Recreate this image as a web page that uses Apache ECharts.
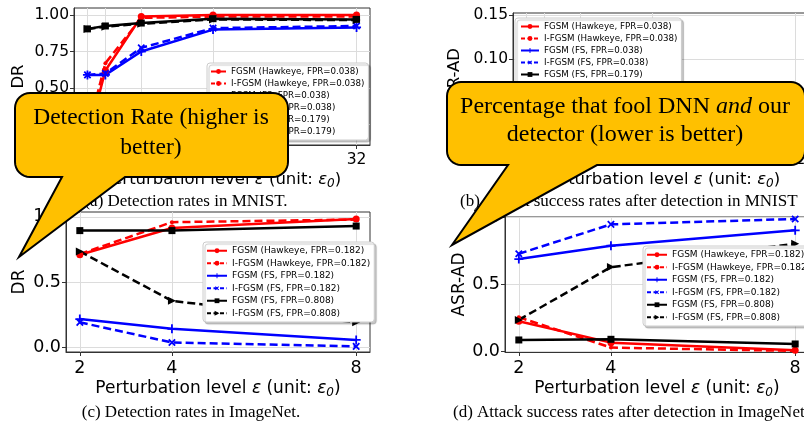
<!DOCTYPE html>
<html><head><meta charset="utf-8">
<script src="https://cdn.jsdelivr.net/npm/echarts@6/dist/echarts.min.js"></script>
<style>html,body{margin:0;padding:0;background:#fff}#c{width:804px;height:424px}</style>
</head><body><div id="c"></div>
<script>
// ---------- data ----------
const mnistEps = [2, 4, 8, 16, 32];
const imagenetEps = [2, 4, 8];

const mnistNamesA = ['FGSM (Hawkeye, FPR=0.038)', 'I-FGSM (Hawkeye, FPR=0.038)', 'FGSM (FS, FPR=0.038)', 'I-FGSM (FS, FPR=0.038)', 'FGSM (FS, FPR=0.179)', 'I-FGSM (FS, FPR=0.179)'];
const imagenetNames = ['FGSM (Hawkeye, FPR=0.182)', 'I-FGSM (Hawkeye, FPR=0.182)', 'FGSM (FS, FPR=0.182)', 'I-FGSM (FS, FPR=0.182)', 'FGSM (FS, FPR=0.808)', 'I-FGSM (FS, FPR=0.808)'];

// (a) detection rates, MNIST
const aHawkFGSM  = [0.15, 0.62, 0.99, 1.00, 1.00];
const aHawkIFGSM = [0.20, 0.67, 0.98, 0.99, 0.99];
const aFSFGSM    = [0.59, 0.59, 0.75, 0.90, 0.915];
const aFSIFGSM   = [0.59, 0.60, 0.775, 0.91, 0.925];
const aFS2FGSM   = [0.905, 0.925, 0.945, 0.975, 0.97];
const aFS2IFGSM  = [0.905, 0.92, 0.94, 0.97, 0.965];
// (b) ASR-AD, MNIST (covered by the callout; estimated)
const bHawkFGSM  = [0.050, 0.030, 0.012, 0.011, 0.011];
const bHawkIFGSM = [0.055, 0.035, 0.015, 0.012, 0.012];
const bFSFGSM    = [0.060, 0.055, 0.040, 0.030, 0.030];
const bFSIFGSM   = [0.062, 0.058, 0.042, 0.032, 0.030];
const bFS2FGSM   = [0.020, 0.020, 0.015, 0.013, 0.013];
const bFS2IFGSM  = [0.020, 0.021, 0.016, 0.014, 0.013];
// (c) detection rates, ImageNet
const cHawkFGSM  = [0.71, 0.915, 0.985];
const cHawkIFGSM = [0.715, 0.96, 0.98];
const cFSFGSM    = [0.215, 0.14, 0.055];
const cFSIFGSM   = [0.19, 0.035, 0.005];
const cFS2FGSM   = [0.895, 0.895, 0.93];
const cFS2IFGSM  = [0.735, 0.355, 0.19];
// (d) ASR-AD, ImageNet
const dHawkFGSM  = [0.225, 0.065, 0.008];
const dHawkIFGSM = [0.255, 0.028, 0.003];
const dFSFGSM    = [0.69, 0.79, 0.905];
const dFSIFGSM   = [0.73, 0.95, 0.99];
const dFS2FGSM   = [0.085, 0.09, 0.055];
const dFS2IFGSM  = [0.235, 0.63, 0.805];

// tick labels
const aXTicks = [2, 4, 8, 16, 32];
const aYTicks = [0.25, 0.50, 0.75, 1.00];
const bYTicks = [0.00, 0.05, 0.10, 0.15];
const cXTicks = [2, 4, 8];
const cYTicks = [0.0, 0.5, 1.0];
const dYTicks = [0.0, 0.5, 1.0];

// ---------- styles ----------
const plusPath = 'path://M4,0h2v4h4v2h-4v4h-2v-4h-4v-2h4z';
const styles = [
  {color: '#ff0000', dash: 'solid', symbol: 'circle', size: 7, rotate: 0},
  {color: '#ff0000', dash: [8, 4], symbol: 'circle', size: 4, rotate: 0},
  {color: '#0000ff', dash: 'solid', symbol: plusPath, size: 9, rotate: 0},
  {color: '#0000ff', dash: [8, 4], symbol: plusPath, size: 9, rotate: 45},
  {color: '#000000', dash: 'solid', symbol: 'rect', size: 7, rotate: 0},
  {color: '#000000', dash: [8, 4], symbol: 'triangle', size: 8, rotate: -90}
];

function makeSeries(names, xs, ys, gi) {
  return names.map((n, i) => ({
    name: n, type: 'line', xAxisIndex: gi, yAxisIndex: gi,
    data: xs.map((x, k) => [x, ys[i][k]]),
    symbol: styles[i].symbol, symbolSize: styles[i].size, symbolRotate: styles[i].rotate,
    showSymbol: true, showAllSymbol: true,
    lineStyle: {color: styles[i].color, width: 2.5, type: styles[i].dash},
    itemStyle: {color: styles[i].color, borderWidth: 0},
    emphasis: {disabled: true}, silent: true, animation: false
  }));
}

const sansFont = 'DejaVu Sans';
const serifFont = 'Liberation Serif';
const epsName = 'Perturbation level {e|ε} (unit: {e|ε}{s|0})';
function nameRich(fs) {
  return {
    e: {fontFamily: sansFont, fontStyle: 'italic', fontSize: fs, color: '#000'},
    s: {fontFamily: sansFont, fontStyle: 'italic', fontSize: Math.round(fs * 0.7), color: '#000', padding: [8, 0, 0, 0]}
  };
}

function xAxis(gi, min, max, ticks, fs, nfs, gap) {
  return {
    type: 'value', gridIndex: gi, min: min, max: max,
    name: epsName, nameLocation: 'middle', nameGap: gap,
    nameTextStyle: {fontFamily: sansFont, fontSize: nfs, color: '#000', rich: nameRich(nfs)},
    axisLine: {show: true, onZero: false, lineStyle: {color: '#333', width: 1}},
    axisTick: {show: true, length: 4, customValues: ticks, lineStyle: {color: '#333'}},
    axisLabel: {customValues: ticks, margin: 7, fontFamily: sansFont, fontSize: fs, color: '#000'},
    splitLine: {show: true, lineStyle: {color: '#dcdcdc', width: 1}}
  };
}
function yAxis(gi, min, max, ticks, name, gap, dec, fs, nfs) {
  return {
    type: 'value', gridIndex: gi, min: min, max: max,
    name: name, nameLocation: 'middle', nameGap: gap, nameRotate: 90,
    nameTextStyle: {fontFamily: sansFont, fontSize: nfs, color: '#000'},
    axisLine: {show: true, onZero: false, lineStyle: {color: '#333', width: 1}},
    axisTick: {show: true, length: 4, customValues: ticks, lineStyle: {color: '#333'}},
    axisLabel: {customValues: ticks, margin: 5, fontFamily: sansFont, fontSize: fs, color: '#000',
      formatter: v => v.toFixed(dec)},
    splitLine: {show: true, lineStyle: {color: '#dcdcdc', width: 1}}
  };
}
function legend(names, left, top, iw, lh, pad, fs) {
  return {
    data: names.map((n, i) => styles[i].dash === 'solid' ? {name: n} : {name: n, lineStyle: {type: [4, 2.5]}}),
    orient: 'vertical', left: left, top: top,
    itemWidth: iw, itemHeight: 6, itemGap: 1,
    padding: pad,
    backgroundColor: '#ffffff', borderColor: '#cccccc', borderWidth: 1, borderRadius: 3,
    shadowColor: 'rgba(0,0,0,0.22)', shadowOffsetX: 2, shadowOffsetY: 2, shadowBlur: 1,
    textStyle: {fontFamily: sansFont, fontSize: fs, color: '#000', lineHeight: lh},
    selectedMode: false, inactiveColor: '#000'
  };
}

function calloutPts(x0, y0, x1, y1, r, tail) {
  const pts = [];
  const arc = (cx, cy, a0, a1) => {
    for (let k = 0; k <= 8; k++) { const a = a0 + (a1 - a0) * k / 8; pts.push([cx + r * Math.cos(a), cy + r * Math.sin(a)]); }
  };
  arc(x0 + r, y0 + r, Math.PI, 1.5 * Math.PI);
  arc(x1 - r, y0 + r, 1.5 * Math.PI, 2 * Math.PI);
  arc(x1 - r, y1 - r, 0, 0.5 * Math.PI);
  pts.push([tail[1], y1], [tail[2], tail[3]], [tail[0], y1]);
  arc(x0 + r, y1 - r, 0.5 * Math.PI, Math.PI);
  return pts;
}

const chart = echarts.init(document.getElementById('c'), null, {renderer: 'canvas', width: 804, height: 424});
const gridBase = {show: true, borderColor: '#333', borderWidth: 1, backgroundColor: 'transparent', containLabel: false, outerBoundsMode: 'none'};
const capFont = '17px "Liberation Serif"';

chart.setOption({
  backgroundColor: '#ffffff',
  animation: false,
  grid: [
    Object.assign({left: 74, top: 8, width: 296, height: 137}, gridBase),
    Object.assign({left: 513, top: 13, width: 296, height: 132}, gridBase),
    Object.assign({left: 66, top: 212, width: 304, height: 140}, gridBase),
    Object.assign({left: 505, top: 217, width: 304, height: 135}, gridBase)
  ],
  xAxis: [
    xAxis(0, 0.5, 33.5, aXTicks, 15.5, 16.5, 25),
    xAxis(1, 0.5, 33.5, aXTicks, 15.5, 16.5, 25),
    xAxis(2, 1.7, 8.3, cXTicks, 17.5, 17, 27),
    xAxis(3, 1.7, 8.3, cXTicks, 17.5, 17, 27)
  ],
  yAxis: [
    yAxis(0, 0.11, 1.048, aYTicks, 'DR', 47, 2, 15.5, 16.5),
    yAxis(1, 0.003, 0.152, bYTicks, 'ASR-AD', 50, 2, 15.5, 16.5),
    yAxis(2, -0.038, 1.038, cYTicks, 'DR', 38, 1, 17.5, 17),
    yAxis(3, -0.005, 1.005, dYTicks, 'ASR-AD', 37, 1, 17.5, 17)
  ],
  legend: [
    legend(mnistNamesA, 207, 63, 15, 11, [3, 4, 3, 3], 8.7),
    legend(mnistNamesA, 515, 18, 18, 11, [3, 4, 3, 5], 8.7),
    legend(imagenetNames, 203, 242, 20, 11.5, [3, 4, 3, 3], 9),
    legend(imagenetNames, 643, 246, 20, 11.5, [3, 4, 3, 3], 9)
  ],
  series: [].concat(
    makeSeries(mnistNamesA, mnistEps, [aHawkFGSM, aHawkIFGSM, aFSFGSM, aFSIFGSM, aFS2FGSM, aFS2IFGSM], 0),
    makeSeries(mnistNamesA, mnistEps, [bHawkFGSM, bHawkIFGSM, bFSFGSM, bFSIFGSM, bFS2FGSM, bFS2IFGSM], 1),
    makeSeries(imagenetNames, imagenetEps, [cHawkFGSM, cHawkIFGSM, cFSFGSM, cFSIFGSM, cFS2FGSM, cFS2IFGSM], 2),
    makeSeries(imagenetNames, imagenetEps, [dHawkFGSM, dHawkIFGSM, dFSFGSM, dFSIFGSM, dFS2FGSM, dFS2IFGSM], 3)
  ),
  graphic: [
    {type: 'text', z: 50, x: 186, y: 202, style: {text: '(a) Detection rates in MNIST.', font: capFont, fill: '#000', align: 'center', verticalAlign: 'middle'}},
    {type: 'text', z: 50, x: 460, y: 202, style: {text: '(b) Attack success rates after detection in MNIST', font: capFont, fill: '#000', align: 'left', verticalAlign: 'middle'}},
    {type: 'text', z: 50, x: 191, y: 413, style: {text: '(c) Detection rates in ImageNet.', font: capFont, fill: '#000', align: 'center', verticalAlign: 'middle'}},
    {type: 'text', z: 50, x: 453, y: 413, style: {text: '(d) Attack success rates after detection in ImageNet', font: capFont, fill: '#000', align: 'left', verticalAlign: 'middle'}},
    {type: 'polygon', z: 100, shape: {points: calloutPts(15, 93, 288, 177, 15, [62, 125, 19, 257])},
      style: {fill: '#FFC000', stroke: '#000', lineWidth: 2, lineJoin: 'miter'}},
    {type: 'text', z: 101, x: 151, y: 133, style: {text: 'Detection Rate (higher is\nbetter)', font: '23.5px "Liberation Serif"', lineHeight: 30, fill: '#000', align: 'center', verticalAlign: 'middle'}},
    {type: 'polygon', z: 100, shape: {points: calloutPts(447, 82, 805, 165, 14, [508, 597, 452, 245])},
      style: {fill: '#FFC000', stroke: '#000', lineWidth: 2, lineJoin: 'miter'}},
    {type: 'text', z: 101, x: 625, y: 121, style: {
      text: '{n|Percentage that fool DNN }{i|and}{n| our}\n{n|detector (lower is better)}',
      align: 'center', verticalAlign: 'middle',
      rich: {
        n: {fontFamily: serifFont, fontSize: 24, lineHeight: 28, fill: '#000'},
        i: {fontFamily: serifFont, fontSize: 24, fontStyle: 'italic', lineHeight: 28, fill: '#000'}
      }}}
  ]
});
</script></body></html>
